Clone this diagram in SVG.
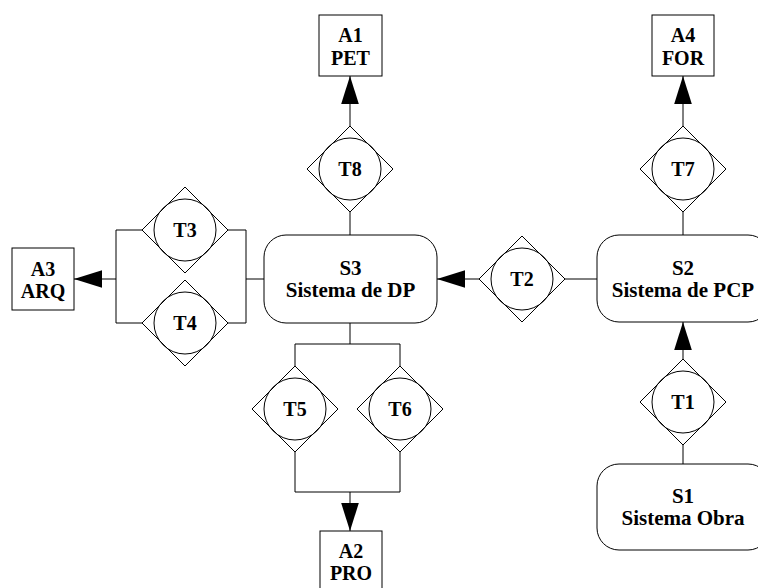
<svg xmlns="http://www.w3.org/2000/svg" width="758" height="588" viewBox="0 0 758 588">
<style>
.box{fill:#fff;stroke:#000;stroke-width:1}
.sys{fill:#fff;stroke:#000;stroke-width:1}
.dia{fill:#fff;stroke:#000;stroke-width:1}
.cir{fill:none;stroke:#000;stroke-width:1}
.ln{fill:none;stroke:#000;stroke-width:1}
.arr{marker-end:url(#ah)}
text{font-weight:bold;font-size:20px;text-anchor:middle;fill:#000}
.st{font-size:21px}
</style>
<defs>
<marker id="ah" markerUnits="userSpaceOnUse" markerWidth="28" markerHeight="18" viewBox="0 0 27 17" refX="27" refY="8.5" orient="auto">
<path d="M0,0 L27,8.5 L0,17 z" fill="#000"/>
</marker>
</defs>
<rect width="758" height="588" fill="#fff"/>
<g id="connectors">
<line class="ln arr" x1="350" y1="126" x2="350" y2="76"/>
<line class="ln" x1="350" y1="235" x2="350" y2="212"/>
<line class="ln arr" x1="683" y1="126" x2="683" y2="76"/>
<line class="ln" x1="683" y1="235" x2="683" y2="212"/>
<line class="ln" x1="597" y1="279" x2="565" y2="279"/>
<line class="ln arr" x1="479" y1="279" x2="437" y2="279"/>
<line class="ln" x1="683" y1="464" x2="683" y2="445"/>
<line class="ln arr" x1="683" y1="359" x2="683" y2="322"/>
<line class="ln" x1="264" y1="279" x2="246" y2="279"/>
<polyline class="ln" points="228,230 246,230 246,323 228,323"/>
<polyline class="ln" points="142,230 116,230 116,323 142,323"/>
<line class="ln arr" x1="116" y1="279" x2="74" y2="279"/>
<line class="ln" x1="350" y1="323" x2="350" y2="344"/>
<polyline class="ln" points="295,366 295,344 400,344 400,366"/>
<polyline class="ln" points="295,452 295,492 400,492 400,452"/>
<line class="ln arr" x1="350" y1="492" x2="350" y2="531"/>
</g>
<g font-family="'Liberation Serif', 'Times New Roman', 'DejaVu Serif', serif">
<g id="A1"><rect class="box" x="319" y="15" width="63" height="61"/><text x="350.5" y="42">A1</text><text x="350.5" y="65">PET</text></g>
<g id="A4"><rect class="box" x="652" y="15" width="62" height="61"/><text x="683" y="42">A4</text><text x="683" y="65">FOR</text></g>
<g id="A3"><rect class="box" x="12" y="248" width="62" height="62"/><text x="43" y="276">A3</text><text x="43" y="298">ARQ</text></g>
<g id="A2"><rect class="box" x="320" y="531" width="62" height="62"/><text x="351" y="558">A2</text><text x="351" y="580">PRO</text></g>
<g id="S3"><rect class="sys" x="264" y="235" width="173" height="88" rx="22" ry="22"/><text class="st" x="350.5" y="275">S3</text><text class="st" x="350.5" y="297">Sistema de DP</text></g>
<g id="S2"><rect class="sys" x="597" y="235" width="173" height="87" rx="22" ry="22"/><text class="st" x="683" y="275">S2</text><text class="st" x="683" y="297">Sistema de PCP</text></g>
<g id="S1"><rect class="sys" x="597" y="464" width="173" height="86" rx="22" ry="22"/><text class="st" x="683" y="503">S1</text><text class="st" x="683" y="525">Sistema Obra</text></g>
<g id="T8" transform="translate(350,169)"><polygon class="dia" points="0,-43 43,0 0,43 -43,0"/><circle class="cir" r="31"/><text y="7">T8</text></g>
<g id="T7" transform="translate(683,169)"><polygon class="dia" points="0,-43 43,0 0,43 -43,0"/><circle class="cir" r="31"/><text y="7">T7</text></g>
<g id="T2" transform="translate(522,279)"><polygon class="dia" points="0,-43 43,0 0,43 -43,0"/><circle class="cir" r="31"/><text y="7">T2</text></g>
<g id="T1" transform="translate(683,402)"><polygon class="dia" points="0,-43 43,0 0,43 -43,0"/><circle class="cir" r="31"/><text y="7">T1</text></g>
<g id="T3" transform="translate(185,230)"><polygon class="dia" points="0,-43 43,0 0,43 -43,0"/><circle class="cir" r="31"/><text y="7">T3</text></g>
<g id="T4" transform="translate(185,323)"><polygon class="dia" points="0,-43 43,0 0,43 -43,0"/><circle class="cir" r="31"/><text y="7">T4</text></g>
<g id="T5" transform="translate(295,409)"><polygon class="dia" points="0,-43 43,0 0,43 -43,0"/><circle class="cir" r="31"/><text y="7">T5</text></g>
<g id="T6" transform="translate(400,409)"><polygon class="dia" points="0,-43 43,0 0,43 -43,0"/><circle class="cir" r="31"/><text y="7">T6</text></g>
</g>
</svg>
